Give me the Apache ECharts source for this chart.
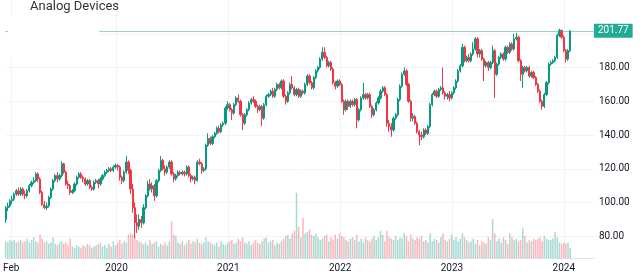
<!DOCTYPE html>
<html>
<head>
<meta charset="utf-8">
<script src="https://cdn.jsdelivr.net/npm/echarts@6/dist/echarts.min.js"></script>
<style>
  html, body { margin: 0; padding: 0; background: #fff; }
  #chart { width: 640px; height: 280px; }
</style>
</head>
<body>
<div id="chart"></div>
<script>
// weekly candles, first bar = week of 2019-01-14
const opens = [90,97,98,101,102,105,107,105,108,105,
  104,107,110,112,113,117,114,106,99,97,
  98,103,108,113,116,114,116,123,118,111,
  110,106,107,111,115,117,115,114,111,113,
  109,108,112,113,111,114,116,118,119,120,
  119,121,122,121,115,113,118,124,119,108,
  97,88,86,90,88,97,104,111,108,110,
  104,113,119,125,120,118,121,124,117,114,
  116,118,117,118,117,121,116,114,115,113,
  124,123,119,120,134,138,135,139,141,144,
  142,146,147,156,158,155,153,158,162,160,
  152,147,152,155,159,161,160,157,155,157,
  150,158,163,164,166,163,167,170,168,172,
  163,160,165,170,168,164,167,163,166,165,
  170,175,171,168,174,178,180,185,189,186,
  181,183,179,171,169,172,170,160,155,160,
  157,160,158,161,149,155,162,164,162,164,
  157,152,155,159,162,166,168,164,147,145,
  143,150,152,161,169,176,178,170,160,150,
  151,147,142,140,139,143,141,145,158,164,
  166,163,167,168,165,163,164,162,165,168,
  172,178,181,192,184,186,184,188,191,197,
  188,190,185,181,183,180,183,190,176,182,
  186,188,185,192,189,194,191,197,198,184,
  176,180,178,180,175,177,174,170,166,160,
  157,164,171,182,183,184,186,199,202,198,
  190,185,190];

const closes = [97,98,101,102,105,107,105,108,105,104,
  107,110,112,113,117,114,106,99,97,98,
  103,108,113,116,114,116,123,118,111,110,
  106,107,111,115,117,115,114,111,113,109,
  108,112,113,111,114,116,118,119,120,119,
  121,122,121,115,113,118,124,119,108,97,
  88,86,90,88,97,104,111,108,110,104,
  113,119,125,120,118,121,124,117,114,116,
  118,117,118,117,121,116,114,115,113,124,
  123,119,120,134,138,135,139,141,144,142,
  146,147,156,158,155,153,158,162,160,152,
  147,152,155,159,161,160,157,155,157,150,
  158,163,164,166,163,167,170,168,172,163,
  160,165,170,168,164,167,163,166,165,170,
  175,171,168,174,178,180,185,189,186,181,
  183,179,171,169,172,170,160,155,160,157,
  160,158,161,149,155,162,164,162,164,157,
  152,155,159,162,166,168,164,147,145,143,
  150,152,161,169,176,178,170,160,150,151,
  147,142,140,139,143,141,145,158,164,166,
  163,167,168,165,163,164,162,165,168,172,
  178,181,192,184,186,184,188,191,197,188,
  190,185,181,183,180,183,190,176,182,186,
  188,185,192,189,194,191,197,198,184,176,
  180,178,180,175,177,174,170,166,160,157,
  164,171,182,183,184,186,199,202,198,190,
  185,190,201.77];

const highs = [98,100,102,104,106,108,109,109,109,107,
  108,111,113,115,118,118,115,107,101,100,
  104,109,114,117,118,117,124.5,123.5,119,113,
  111,108,112,116,118,118,116,115,114,114,
  110,113,114,114,115,117,119,120,121,121,
  122,123,123,122,116,119,127.5,125,120,111,
  100,93,93,92,99,105,113,114,112,111,
  114,120,127.5,126,122,122,125,125,118,117,
  119,119,119,119,122,122,117,116,116,125,
  126,124,121,135,141,139,140,142,145,145.5,
  147,148,157,160,159,156,159,163,164,161,
  153,153,156,160,162,163,161,158,158,158,
  159,164,165,167,168,168,171,171,173,173,
  164,166,171,175,169,168,168,167,167,171,
  176,176,172,175,179,181,186,192,192,187,
  184,184,180,172,173,173,171,161,161,161,
  161,161,162,162,156,163,171,165,165,165,
  158,156,160,163,167,169,169,165,149,147,
  151,153,162,170,177,180,179,171,161,153,
  152,148,143,142,144,144,146,159,165,167,
  167,168,169,180,166,165,166,166,169,173,
  179,182,194,193,187,188,189,195,198,198,
  191,191,186,184,184,184,193,191,183,187,
  189,189,193,193,195,195,200,200.5,199,185,
  181,181,181,181,178,178,175,171,167,161,
  165,172,183,184,185,187,200,203,202.5,199,
  191,191,201.9];

const lows = [88,95,97,99,101,104,104,104,104,102,
  103,106,109,111,112,112,105,98,96,95.5,
  97,102,107,112,112,113,115,117,110,108,
  104.5,105,106,110,114,114,112,110,110,108,
  107,107,111,108.5,110,113,115,117,118,118,
  118,120,119,113,111,112,117,117,105,94,
  79,82,84,85,87,96,103,107,106,101,
  103,112,118,119,116,117,120,116,112,113,
  115,116,116,115.5,116,115,112,113,111,112.5,
  122,117,118,119,133,134,134,138,140,141,
  141,145,146,155,154,149,152,157,159,151,
  143,146,151,154,158,159,156,153,154,145.5,
  149,157,162,163,162,162,166,167,167,162,
  158,159,164,167,163,163,162,162,164,164,
  169,170,167,167,173,177,179,184,185,180,
  180,178,170,167,168,169,159,152,154,155,
  156,157,157,144,148,154,161,161,161,156,
  150,151,154,158,161,165,163,145,142,139,
  142,149,151,160,168,175,169,159,148,148,
  146,141,134,137,138,140,140,144,157,163,
  162,162,166,164,161,161,160,161,164,167,
  171,177,180,183,183,183,183,187,190,186,
  186,184,172,180,178,179,182,162,175,181,
  185,184,184,188,188,190,190,196,183,172,
  168,177,177,174,174,173,169,165,159,155,
  156,163,170,181,182,183,185,198,197,189,
  183,184,189];

// weekly volume, millions
const volumes = [13,12,14,13,14,12,13,14,12,13,15,12,14,
  16,13,12,18,15,12,13,11,12,16,11,10,12,
  13,11,12,10,15,9,8,10,9,8,10,9,11,
  10,8,9,10,11,12,9,10,8,11,9,13,10,
  12,14,11,13,12,18,19,18,17,14,13,12,11,
  12,10,14,11,12,13,9,11,10,12,10,13,28,
  18,17,12,11,13,10,12,14,11,13,12,15,12,
  11,12,16,13,12,11,10,12,9,13,11,10,12,
  13,14,11,12,15,13,16,12,11,13,10,12,14,
  12,11,13,15,16,12,13,14,10,12,11,13,15,
  17,18,15,19,21,50,24,16,31,19,20,22,18,
  17,19,16,14,15,17,18,13,16,14,18,15,19,
  17,16,14,13,15,16,14,18,13,15,12,16,14,
  13,15,17,14,16,21,18,13,21,16,15,14,17,
  14,16,15,19,17,13,18,15,14,16,15,17,13,
  14,12,19,13,15,14,12,16,19,14,13,15,18,
  14,16,13,15,19,16,14,12,13,15,11,14,10,
  13,12,11,16,14,30,19,13,15,12,16,14,11,
  19,16,14,15,13,14,23,17,12,14,13,15,14,
  15,16,13,17,15,14,14,15,20,16,12,11,12,
  11,12,7.621];

// axis: weekly slots incl. empty right margin
const firstWeek = Date.UTC(2019, 0, 14);
const slotCount = 274;
const tickWeeks = [2, 51, 103, 155, 207, 259];
const tickLabels = ['Feb', '2020', '2021', '2022', '2023', '2024'];

const categories = [];
for (let i = 0; i < slotCount; i++) {
  categories.push(new Date(firstWeek + i * 7 * 864e5).toISOString().slice(0, 10));
}

const upColor = '#089981';
const downColor = '#f23645';
const upVol = 'rgba(8,153,129,0.36)';
const downVol = 'rgba(242,54,69,0.36)';
const font = 'Roboto, "Noto Sans", sans-serif';

const candleData = opens.map((o, i) => [o, closes[i], lows[i], highs[i]]);
const volumeData = volumes.map((v, i) => ({
  value: v,
  itemStyle: { color: closes[i] >= opens[i] ? upVol : downVol }
}));

const lastClose = closes[closes.length - 1];
const lastVolume = volumes[volumes.length - 1];

const gridLeft = 5.6;
const gridRight = 46.1;

const chart = echarts.init(document.getElementById('chart'));

chart.setOption({
  animation: false,
  backgroundColor: '#fff',
  title: {
    text: 'Analog Devices',
    left: 30,
    top: 0,
    padding: 0,
    textStyle: { fontSize: 13, fontWeight: 'normal', color: '#333', fontFamily: font }
  },
  grid: [
    { left: gridLeft, right: gridRight, top: -10.7, height: 280.8 },
    { left: gridLeft, right: gridRight, top: 179.6, height: 78.7 },
    { left: gridLeft, right: gridRight, top: 0, height: 258.3 }
  ],
  xAxis: [
    { type: 'category', gridIndex: 0, data: categories, boundaryGap: false, show: false },
    { type: 'category', gridIndex: 1, data: categories, boundaryGap: false, show: false },
    {
      type: 'category',
      gridIndex: 2,
      data: categories,
      boundaryGap: false,
      axisLine: { lineStyle: { color: '#e0e3eb' } },
      axisTick: { show: false },
      axisLabel: {
        interval: (idx) => tickWeeks.includes(idx),
        formatter: (val, idx) => tickLabels[tickWeeks.indexOf(idx)] || '',
        color: '#131722',
        fontSize: 10,
        fontFamily: font,
        margin: 5
      },
      splitLine: {
        show: true,
        interval: (idx) => tickWeeks.includes(idx),
        lineStyle: { color: '#f0f3fa' }
      }
    }
  ],
  yAxis: [
    {
      type: 'value',
      gridIndex: 0,
      position: 'right',
      min: 60,
      max: 220,
      interval: 20,
      axisLine: { show: false },
      axisTick: { show: false },
      axisLabel: {
        formatter: (v) => (v >= 80 && v <= 180 ? v.toFixed(2) : ''),
        color: '#131722',
        fontSize: 10,
        fontFamily: font,
        margin: 5
      },
      splitLine: { showMinLine: false, showMaxLine: false, lineStyle: { color: '#f0f3fa' } }
    },
    { type: 'value', gridIndex: 1, min: 0, max: 60, show: false },
    { type: 'value', gridIndex: 2, min: 0, max: 1, show: false }
  ],
  series: [
    {
      name: 'Volume',
      type: 'bar',
      xAxisIndex: 1,
      yAxisIndex: 1,
      barWidth: 1.5,
      clip: false,
      data: volumeData,
      markLine: {
        silent: true,
        symbol: 'none',
        data: [{ yAxis: lastVolume }],
        lineStyle: { opacity: 0 },
        label: {
          position: 'end',
          distance: 0,
          formatter: lastVolume.toFixed(3) + 'M',
          backgroundColor: '#22ab94',
          color: '#fff',
          padding: [2, 4],
          fontSize: 10,
          fontFamily: font
        }
      }
    },
    {
      name: 'ADI',
      type: 'candlestick',
      xAxisIndex: 0,
      yAxisIndex: 0,
      barWidth: 1.7,
      clip: false,
      data: candleData,
      itemStyle: {
        color: upColor,
        color0: downColor,
        borderColor: upColor,
        borderColor0: downColor,
        borderWidth: 1
      },
      markLine: {
        silent: true,
        symbol: 'none',
        data: [{ yAxis: lastClose }],
        lineStyle: { color: '#22ab94', type: [1, 1], width: 1 },
        label: {
          position: 'end',
          distance: 0,
          formatter: lastClose.toFixed(2),
          backgroundColor: '#22ab94',
          color: '#fff',
          padding: [2, 4],
          fontSize: 10,
          fontFamily: font
        }
      }
    }
  ],
  graphic: [
    // legend area cover, hides the price line under the title
    { type: 'rect', left: 8, top: 17, shape: { width: 91, height: 40 }, style: { fill: '#fff' }, z: 100 }
  ]
});
</script>
</body>
</html>
